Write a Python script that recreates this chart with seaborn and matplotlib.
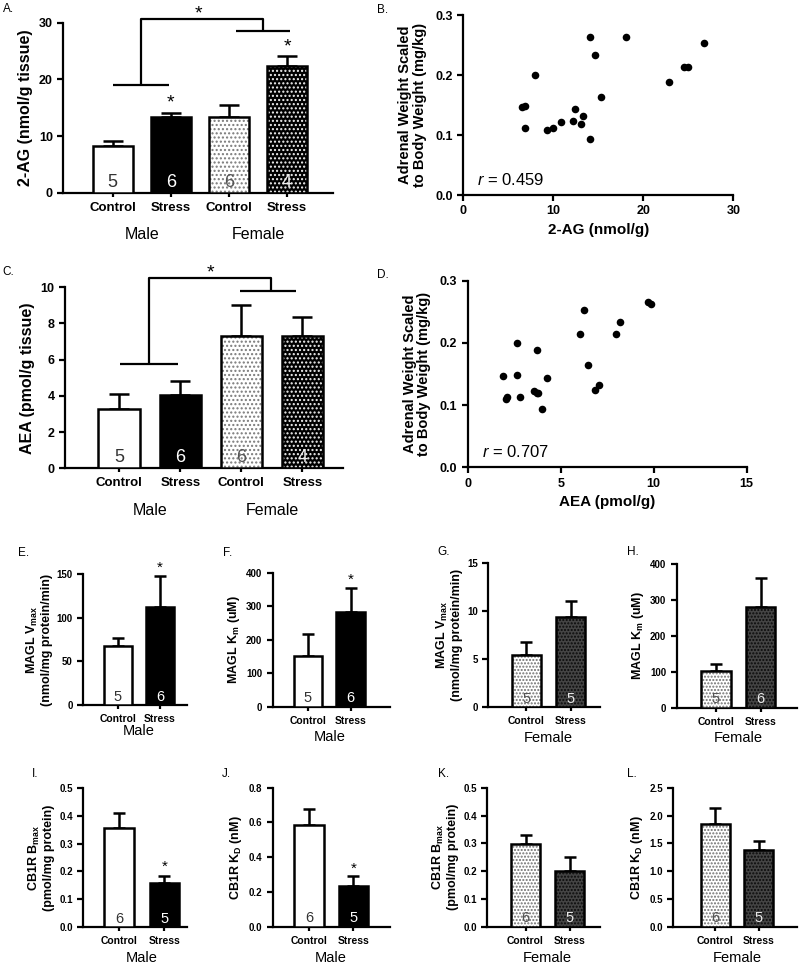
import numpy as np
import pandas as pd
import matplotlib
matplotlib.use('Agg')
import matplotlib.pyplot as plt
import seaborn as sns
from matplotlib.colors import to_rgba

# ---- data ----
groups4 = ['Male Control', 'Male Stress', 'Female Control', 'Female Stress']
ticks4 = ['Control', 'Stress', 'Control', 'Stress']
styles4 = ['white', 'black', 'dots', 'bdots']

ag_mean = [8.2, 13.3, 13.3, 22.3]
ag_sem = [1.0, 0.7, 2.2, 1.8]
ag_n = [5, 6, 6, 4]

aea_mean = [3.3, 4.05, 7.3, 7.3]
aea_sem = [0.8, 0.75, 1.7, 1.05]
aea_n = [5, 6, 6, 4]

# scatter B: 2-AG vs adrenal weight
ag_x = [6.5, 6.85, 6.9, 8.0, 9.3, 10.0, 10.9, 12.15, 12.4, 13.1, 13.3, 14.1,
        14.1, 14.6, 15.3, 18.1, 22.8, 24.5, 25.0, 26.7]
ag_y = [0.146, 0.148, 0.112, 0.200, 0.109, 0.112, 0.121, 0.124, 0.143, 0.119,
        0.132, 0.093, 0.264, 0.234, 0.163, 0.263, 0.188, 0.213, 0.213, 0.253]
ag_r = 0.459

# scatter D: AEA vs adrenal weight
aea_x = [1.88, 2.06, 2.13, 2.63, 2.63, 2.81, 3.58, 3.71, 3.75, 3.78, 4.0, 4.25,
         6.04, 6.24, 6.49, 6.86, 7.08, 7.96, 8.2, 9.68, 9.84]
aea_y = [0.147, 0.110, 0.113, 0.200, 0.149, 0.1125, 0.122, 0.120, 0.189, 0.120,
         0.093, 0.144, 0.214, 0.253, 0.164, 0.125, 0.133, 0.214, 0.234, 0.265, 0.263]
aea_r = 0.707

ticks2 = ['Control', 'Stress']
male2 = ['Male Control', 'Male Stress']
female2 = ['Female Control', 'Female Stress']

vmax_male = [68, 113]
vmax_male_sem = [9, 35]
vmax_male_n = [5, 6]
km_male = [150, 283]
km_male_sem = [68, 72]
km_male_n = [5, 6]
vmax_female = [5.5, 9.4]
vmax_female_sem = [1.3, 1.7]
vmax_female_n = [5, 5]
km_female = [103, 280]
km_female_sem = [19, 82]
km_female_n = [5, 6]
bmax_male = [0.357, 0.158]
bmax_male_sem = [0.053, 0.027]
bmax_male_n = [6, 5]
kd_male = [0.585, 0.235]
kd_male_sem = [0.095, 0.058]
kd_male_n = [6, 5]
bmax_female = [0.298, 0.200]
bmax_female_sem = [0.032, 0.050]
bmax_female_n = [6, 5]
kd_female = [1.85, 1.38]
kd_female_sem = [0.29, 0.16]
kd_female_n = [6, 5]

# ---- style ----
sns.set_style('ticks')
plt.rcParams['font.family'] = ['Liberation Sans', 'DejaVu Sans']
plt.rcParams['font.weight'] = 'bold'
plt.rcParams['axes.labelweight'] = 'bold'
plt.rcParams['mathtext.fontset'] = 'custom'
plt.rcParams['mathtext.rm'] = 'Liberation Sans:bold'
plt.rcParams['mathtext.it'] = 'Liberation Sans:style=italic:weight=normal'
plt.rcParams['mathtext.bf'] = 'Liberation Sans:bold'
for k in ['axes.edgecolor', 'xtick.color', 'ytick.color', 'text.color', 'axes.labelcolor']:
    plt.rcParams[k] = 'black'
plt.rcParams['axes.linewidth'] = 1.6
plt.rcParams['xtick.major.width'] = 1.6
plt.rcParams['ytick.major.width'] = 1.6
plt.rcParams['xtick.major.size'] = 4
plt.rcParams['ytick.major.size'] = 4
plt.rcParams['hatch.linewidth'] = 1.0

STYLES = {
    'white': dict(face='white', hatch=None, hc=None, ncol='#333333'),
    'black': dict(face='black', hatch=None, hc=None, ncol='white'),
    'dots': dict(face='white', hatch='....', hc='#7a7a7a', ncol='#555555'),
    'bdots': dict(face='black', hatch='....', hc='#f2f2f2', ncol='#eeeeee'),
    'fine': dict(face='white', hatch='.....', hc='#707070', ncol='#555555'),
    'check': dict(face='#444444', hatch='.....', hc='#0a0a0a', ncol='#e8e8e8'),
}

W, H = 800, 966
fig = plt.figure(figsize=(8, 9.66), dpi=100)


def px_axes(x0, y0, x1, y1):
    return fig.add_axes([x0 / W, 1 - y1 / H, (x1 - x0) / W, (y1 - y0) / H])


def bar_panel(ax, box, groups, ticks, means, sems, ns, styles, ylim, yticks,
              width, capsize, nsize, ticksize, xticksize):
    left, c1, cn, right = box
    step = (cn - c1) / (len(means) - 1)
    df = pd.DataFrame({'group': groups, 'value': means})
    pal = {g: STYLES[s]['face'] for g, s in zip(groups, styles)}
    sns.barplot(data=df, x='group', y='value', hue='group', palette=pal,
                saturation=1, legend=False, width=width, errorbar=None,
                edgecolor='black', linewidth=1.8, zorder=3, ax=ax)
    for patch, s in zip(ax.patches, styles):
        st = STYLES[s]
        if st['hatch']:
            patch.set_hatch(st['hatch'])
            patch._hatch_color = to_rgba(st['hc'])
    x = np.arange(len(means))
    ax.errorbar(x, means, yerr=[np.zeros(len(means)), sems], fmt='none',
                ecolor='black', elinewidth=1.8, capsize=capsize, capthick=1.8, zorder=2)
    for xi, n, s in zip(x, ns, styles):
        ax.text(xi, 0.01, str(n), transform=ax.get_xaxis_transform(), ha='center',
                va='bottom', fontsize=nsize, fontweight='normal',
                color=STYLES[s]['ncol'], zorder=5)
    ax.set_xlim((left - c1) / step, len(means) - 1 + (right - cn) / step)
    ax.set_ylim(*ylim)
    ax.set_yticks(yticks)
    ax.set_xticks(x)
    ax.set_xticklabels(ticks)
    ax.tick_params(axis='y', labelsize=ticksize)
    ax.tick_params(axis='x', labelsize=xticksize, length=3)
    ax.set_xlabel('')
    sns.despine(ax=ax)


def group_label(ax, xpos, text, off_px, size):
    ax.annotate(text, xy=(xpos, 0), xycoords=('data', 'axes fraction'),
                xytext=(0, -off_px * 0.72), textcoords='offset points',
                ha='center', va='center', fontsize=size, fontweight='normal')


def star(ax, x, y, size):
    ax.text(x, y, '*', ha='center', va='center', fontsize=size,
            fontweight='normal', clip_on=False)


def bracket(ax, male_span, male_mid, female_span, female_mid, y_male, y_top, y_female):
    kw = dict(color='black', lw=1.6, clip_on=False, solid_capstyle='butt')
    ax.plot(male_span, [y_male, y_male], **kw)
    ax.plot([male_mid, male_mid, female_mid, female_mid],
            [y_male, y_top, y_top, y_female], **kw)
    ax.plot(female_span, [y_female, y_female], **kw)


# ---- A ----
axA = px_axes(63.3, 22.7, 333.3, 192.7)
bar_panel(axA, (63.3, 112.7, 287.0, 333.3), groups4, ticks4, ag_mean, ag_sem, ag_n,
          styles4, (0, 30), [0, 10, 20, 30], 0.69, 7.5, 13, 9, 9.5)
axA.set_ylabel('2-AG (nmol/g tissue)', fontsize=11.5, labelpad=4)
bracket(axA, [0.0, 0.97], 0.48, [2.12, 3.05], 2.59, 19.06, 30.7, 28.6)
star(axA, 1.47, 31.6, 14)
star(axA, 1, 15.8, 14)
star(axA, 3, 25.8, 14)
group_label(axA, 0.5, 'Male', 42, 11.5)
group_label(axA, 2.5, 'Female', 42, 11.5)

# ---- C ----
axC = px_axes(65.0, 287.3, 343.3, 468.3)
bar_panel(axC, (65.0, 119.2, 302.5, 343.3), groups4, ticks4, aea_mean, aea_sem, aea_n,
          styles4, (0, 10), [0, 2, 4, 6, 8, 10], 0.68, 7.5, 13, 9, 9.5)
axC.set_ylabel('AEA (pmol/g tissue)', fontsize=11.5, labelpad=4)
bracket(axC, [0.01, 0.96], 0.49, [1.97, 2.9], 2.49, 5.77, 10.5, 9.8)
star(axC, 1.49, 10.8, 14)
group_label(axC, 0.5, 'Male', 42, 11.5)
group_label(axC, 2.5, 'Female', 42, 11.5)


# ---- B, D scatter ----
def scatter_panel(ax, xs, ys, r, xlim, xticks, xlabel, rx):
    sns.scatterplot(x=xs, y=ys, color='black', s=30, linewidth=0, ax=ax, zorder=3)
    ax.set_xlim(*xlim)
    ax.set_ylim(0, 0.3)
    ax.set_xticks(xticks)
    ax.set_yticks([0.0, 0.1, 0.2, 0.3])
    ax.tick_params(labelsize=9)
    ax.set_xlabel(xlabel, fontsize=11, labelpad=4)
    ax.set_ylabel('Adrenal Weight Scaled\nto Body Weight (mg/kg)', fontsize=10.5,
                  linespacing=1.05, labelpad=6)
    ax.text(rx, 0.025, f'$r$ = {r}', ha='left', va='center', fontsize=12,
            fontweight='normal')
    sns.despine(ax=ax)


axB = px_axes(463.3, 15.0, 733.3, 195.0)
scatter_panel(axB, ag_x, ag_y, ag_r, (0, 30), [0, 10, 20, 30], '2-AG (nmol/g)', 1.5)
axD = px_axes(467.7, 280.7, 746.7, 467.3)
scatter_panel(axD, aea_x, aea_y, aea_r, (0, 15), [0, 5, 10, 15], 'AEA (pmol/g)', 0.75)

# ---- small panels E-L ----
small = [
    # ax box px, bar box px, group names, means, sem, n, styles, ylim, yticks, ylabel, sex, label offset, star y
    ((83.3, 574.3, 186.7, 705.0), (83.3, 118.0, 160.0, 186.7), male2, vmax_male, vmax_male_sem,
     vmax_male_n, ['white', 'black'], (0, 150), [0, 50, 100, 150],
     'MAGL V$_{\\mathbf{max}}$\n(nmol/mg protein/min)', 'Male', 26, 157),
    ((272.7, 572.7, 390.0, 706.7), (272.7, 308.0, 350.5, 390.0), male2, km_male, km_male_sem,
     km_male_n, ['white', 'black'], (0, 400), [0, 100, 200, 300, 400],
     'MAGL K$_{\\mathbf{m}}$ (uM)', 'Male', 30, 380),
    ((488.3, 563.3, 600.0, 707.3), (488.3, 526.3, 570.7, 600.0), female2, vmax_female,
     vmax_female_sem, vmax_female_n, ['fine', 'check'], (0, 15), [0, 5, 10, 15],
     'MAGL V$_{\\mathbf{max}}$\n(nmol/mg protein/min)', 'Female', 31, None),
    ((676.7, 564.0, 796.7, 707.7), (676.7, 716.0, 760.7, 796.7), female2, km_female,
     km_female_sem, km_female_n, ['fine', 'check'], (0, 400), [0, 100, 200, 300, 400],
     'MAGL K$_{\\mathbf{m}}$ (uM)', 'Female', 30, None),
    ((83.3, 787.7, 186.7, 927.3), (83.3, 119.2, 164.5, 186.7), male2, bmax_male, bmax_male_sem,
     bmax_male_n, ['white', 'black'], (0, 0.5), [0, 0.1, 0.2, 0.3, 0.4, 0.5],
     'CB1R B$_{\\mathbf{max}}$\n(pmol/mg protein)', 'Male', 31, 0.215),
    ((272.7, 787.7, 390.0, 926.7), (272.7, 309.0, 353.3, 390.0), male2, kd_male, kd_male_sem,
     kd_male_n, ['white', 'black'], (0, 0.8), [0, 0.2, 0.4, 0.6, 0.8],
     'CB1R K$_{\\mathbf{D}}$ (nM)', 'Male', 31, 0.333),
    ((487.3, 787.7, 600.0, 926.7), (487.3, 525.5, 569.5, 600.0), female2, bmax_female,
     bmax_female_sem, bmax_female_n, ['fine', 'check'], (0, 0.5), [0, 0.1, 0.2, 0.3, 0.4, 0.5],
     'CB1R B$_{\\mathbf{max}}$\n(pmol/mg protein)', 'Female', 31, None),
    ((673.3, 787.7, 796.7, 926.7), (673.3, 715.3, 758.8, 796.7), female2, kd_female,
     kd_female_sem, kd_female_n, ['fine', 'check'], (0, 2.5), [0, 0.5, 1.0, 1.5, 2.0, 2.5],
     'CB1R K$_{\\mathbf{D}}$ (nM)', 'Female', 31, None),
]

for (abox, bbox, grp, m, e, n, st, yl, yt, ylab, sex, off, sy) in small:
    ax = px_axes(*abox)
    bar_panel(ax, bbox, grp, ticks2, m, e, n, st, yl, yt, 0.66, 4.5, 10.5, 7, 7.5)
    ax.set_ylabel(ylab, fontsize=9, linespacing=1.1, labelpad=3)
    if yl[1] < 1:
        ax.yaxis.set_major_formatter(matplotlib.ticker.FormatStrFormatter('%.1f'))
    group_label(ax, 0.5, sex, off, 10.5)
    if sy is not None:
        star(ax, 1, sy, 11)

# ---- panel letters ----
letters = [('A.', 3, 8.5), ('B.', 377, 10), ('C.', 2, 272), ('D.', 377, 275),
           ('E.', 18, 553), ('F.', 223, 553), ('G.', 437, 552), ('H.', 627, 552),
           ('I.', 32, 774), ('J.', 222, 774), ('K.', 438, 774), ('L.', 627, 774)]
for txt, lx, ly in letters:
    fig.text(lx / W, 1 - ly / H, txt, ha='left', va='center', fontsize=8.5,
             fontweight='normal')

fig.savefig('out.png', dpi=100)
